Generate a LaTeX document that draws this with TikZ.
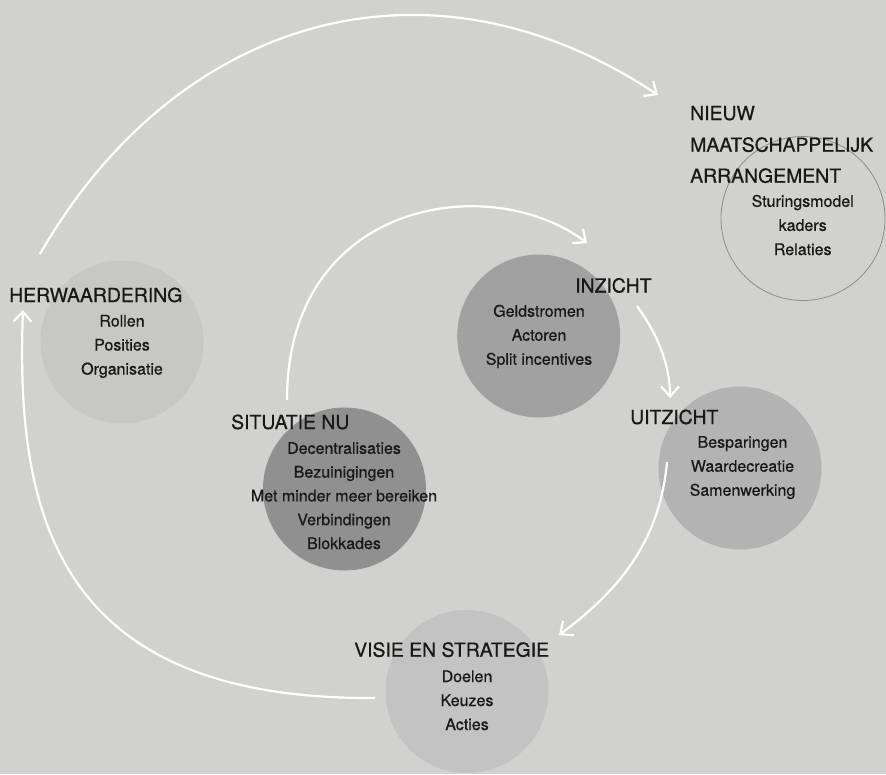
\documentclass[tikz,border=0pt]{standalone}
\usepackage{fontspec}
\setmainfont{TeX Gyre Heros}[FakeBold=0.6]
\usetikzlibrary{arrows.meta}
\definecolor{bg}{RGB}{209,209,207}
\definecolor{herwfill}{RGB}{199,199,197}
\definecolor{sitfill}{RGB}{144,144,144}
\definecolor{inzfill}{RGB}{161,161,161}
\definecolor{uitfill}{RGB}{179,179,179}
\definecolor{visfill}{RGB}{195,195,195}
\definecolor{ringgray}{RGB}{140,140,140}
\definecolor{ink}{RGB}{24,24,24}
\begin{document}
\begin{tikzpicture}[x=1pt,y=-1pt,
  disc/.style={circle, minimum size=163pt, inner sep=0pt, draw=none},
  heading/.style={anchor=base west, inner sep=0pt, text=ink,
    font=\fontsize{19.4}{19.4}\selectfont},
  item/.style={anchor=base, inner sep=0pt, text=ink,
    font=\fontsize{16}{16}\selectfont},
  flow/.style={draw=white, line width=2.2pt,
    -{Straight Barb[length=10pt,width=18pt]}}]

% canvas
\fill[bg] (0,0) rectangle (886,774);
\useasboundingbox (0,0) rectangle (886,774);

% phase discs
\node[disc, fill=herwfill] (herw) at (122,342) {};
\node[disc, fill=sitfill] (sit) at (344.5,489) {};
\node[disc, fill=inzfill] (inz) at (538.7,336) {};
\node[disc, fill=uitfill] (uit) at (740,468) {};
\node[disc, fill=visfill] (vis) at (467,691.5) {};
\node[disc, draw=ringgray, line width=0.8pt, minimum size=164pt] (nieuw) at (803,218.5) {};

% cycle arrows
\coordinate (a1s) at (40,254);   \coordinate (a1e) at (658,95);
\coordinate (a2s) at (287,400);  \coordinate (a2e) at (587,243);
\coordinate (a3s) at (637,306);  \coordinate (a3e) at (670,398);
\coordinate (a4s) at (667,462);  \coordinate (a4e) at (559,635);
\coordinate (a5s) at (375,698);  \coordinate (a5e) at (23,310);
\draw[flow] (a1s) .. controls (175,19) and (426,-59) .. (a1e);
\draw[flow] (a2s) .. controls (287,200) and (490,170) .. (a2e);
\draw[flow] (a3s) .. controls (658,335) and (670,365) .. (a3e);
\draw[flow] (a4s) .. controls (660,540) and (620,590) .. (a4e);
\draw[flow] (a5s) .. controls (60,700) and (15,520) .. (a5e);

% headings
\node[heading] (herw-title) at (9,302) {HERWAARDERING};
\node[heading] (sit-title) at (231,429) {SITUATIE NU};
\node[heading] (inz-title) at (575,292.5) {INZICHT};
\node[heading] (uit-title) at (630,424) {UITZICHT};
\node[heading] (vis-title) at (354,656.7) {VISIE EN STRATEGIE};
\node[heading] (nieuw-title1) at (690,120) {NIEUW};
\node[heading] (nieuw-title2) at (690,151.7) {MAATSCHAPPELIJK};
\node[heading] (nieuw-title3) at (690,182.7) {ARRANGEMENT};

% item lists
\foreach \txt [count=\i] in {Rollen, Posities, Organisatie}
  \node[item] (herw-item\i) at (122,{302.5+24*\i}) {\txt};
\foreach \txt [count=\i] in {Decentralisaties, Bezuinigingen, Met minder meer bereiken, Verbindingen, Blokkades}
  \node[item] (sit-item\i) at (344,{430+23.8*\i}) {\txt};
\foreach \txt [count=\i] in {Geldstromen, Actoren, Split incentives}
  \node[item] (inz-item\i) at (539,{292.7+24*\i}) {\txt};
\foreach \txt [count=\i] in {Besparingen, Waardecreatie, Samenwerking}
  \node[item] (uit-item\i) at (742.5,{423.7+24*\i}) {\txt};
\foreach \txt [count=\i] in {Doelen, Keuzes, Acties}
  \node[item] (vis-item\i) at (467,{658+24*\i}) {\txt};
\foreach \txt [count=\i] in {Sturingsmodel, kaders, Relaties}
  \node[item] (nieuw-item\i) at (802.7,{182.7+24.1*\i}) {\txt};
\end{tikzpicture}
\end{document}
